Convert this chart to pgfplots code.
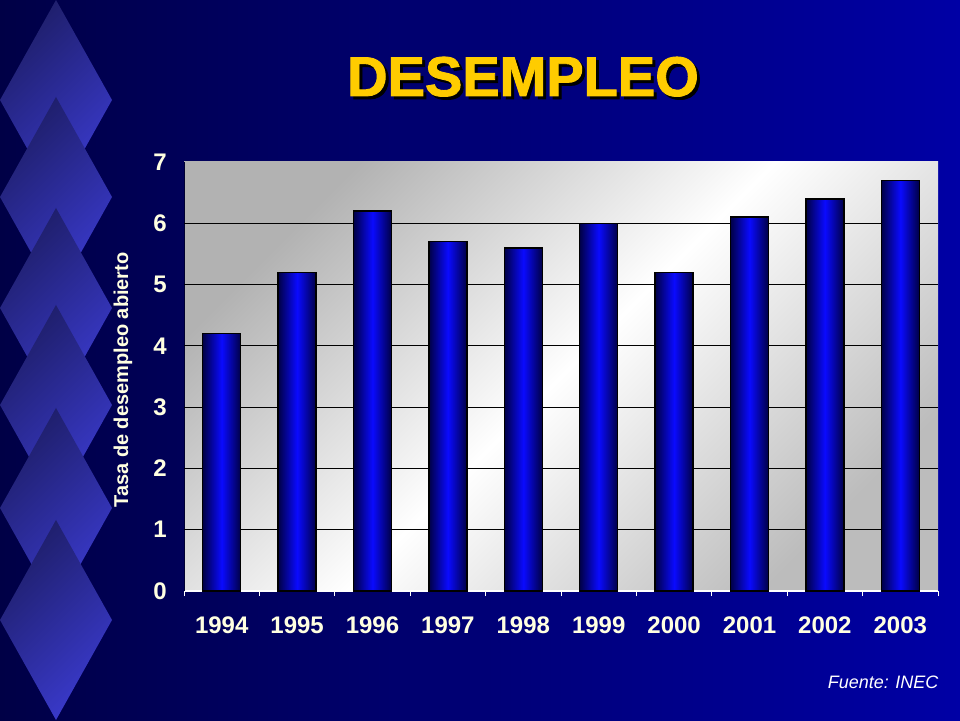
\documentclass[border=0pt]{standalone}
\usepackage{pgfplots}
\pgfplotsset{compat=1.18}
\usepackage{fontspec}
\setmainfont{Liberation Sans}
\newfontfamily\titlefont{Liberation Sans}[BoldFeatures={FakeBold=1.6}]
\definecolor{bgleft}{RGB}{0,0,70}
\definecolor{bgright}{RGB}{0,0,165}
\definecolor{dmdark}{RGB}{30,30,105}
\definecolor{dmbright}{RGB}{58,58,205}
\definecolor{cream}{RGB}{255,255,225}
\definecolor{titley}{RGB}{255,204,0}
\definecolor{plotgray}{RGB}{178,178,178}
\definecolor{plotgrayb}{RGB}{188,188,188}
\definecolor{bardark}{RGB}{0,0,70}
\definecolor{barbright}{RGB}{10,10,255}
\begin{document}
\begin{tikzpicture}[x=1pt,y=1pt]
\path[use as bounding box] (0,0) rectangle (960,720);
\shade[left color=bgleft, right color=bgright] (0,0) rectangle (960,720);
\foreach \c in {100,197,308,405,508,620} {
  \shade[top color=dmdark, bottom color=dmbright, shading angle=45]
    (56,{820-\c}) -- (112,{720-\c}) -- (56,{620-\c}) -- (0,{720-\c}) -- cycle;
}
\node[anchor=base, text=black, font=\fontsize{56}{60}\selectfont\titlefont\bfseries] at (526,621) {DESEMPLEO};
\node[anchor=base, text=titley, font=\fontsize{56}{60}\selectfont\titlefont\bfseries] at (523,624) {DESEMPLEO};
\node[rotate=90, text=cream, font=\fontsize{20}{24}\selectfont\bfseries] at (123,340) {Tasa de desempleo abierto};
\node[anchor=base east, text=white, font=\fontsize{18}{22}\selectfont\itshape] at (942,32) {Fuente: INEC};
\begin{axis}[
  at={(184pt,129pt)}, anchor=south west,
  scale only axis, width=754pt, height=429pt,
  xmin=-0.5, xmax=9.5, ymin=0, ymax=7,
  axis x line=bottom, axis y line=left,
  x axis line style={-, white, line width=1.2pt},
  y axis line style={-, draw={rgb,255:red,0;green,0;blue,50}, line width=1pt},
  xtick={0,...,9},
  xticklabels={1994,1995,1996,1997,1998,1999,2000,2001,2002,2003},
  minor xtick={-0.5,0.5,...,9.5},
  major x tick style={draw=none},
  minor x tick style={white, line width=1pt},
  minor tick length=5pt,
  tick align=outside,
  major tick length=0pt,
  ytick={0,...,7},
  major y tick style={draw=none},
  extra y ticks={1,...,6},
  extra y tick labels={},
  extra y tick style={grid=major, major tick length=0pt},
  grid style={black, line width=1pt},
  ticklabel style={font=\fontsize{24}{28}\selectfont\bfseries, text=cream},
  /pgf/number format/assume math mode=true,
  xticklabel style={anchor=north, inner sep=0pt, yshift=-26pt},
  yticklabel style={anchor=east, inner sep=0pt, xshift=-17pt},
  axis background/.style={top color=plotgray, bottom color=plotgrayb, shading angle=45, middle color=white},
  barstyle/.style={ybar, bar width=38pt, bar shift=0pt, draw=black, line width=1.5pt,
    left color=bardark, right color=bardark, middle color=barbright},
]
\addplot[barstyle] coordinates {(0,4.2)};
\addplot[barstyle] coordinates {(1,5.2)};
\addplot[barstyle] coordinates {(2,6.2)};
\addplot[barstyle] coordinates {(3,5.7)};
\addplot[barstyle] coordinates {(4,5.6)};
\addplot[barstyle] coordinates {(5,6.0)};
\addplot[barstyle] coordinates {(6,5.2)};
\addplot[barstyle] coordinates {(7,6.1)};
\addplot[barstyle] coordinates {(8,6.4)};
\addplot[barstyle] coordinates {(9,6.7)};
\end{axis}
\end{tikzpicture}
\end{document}
